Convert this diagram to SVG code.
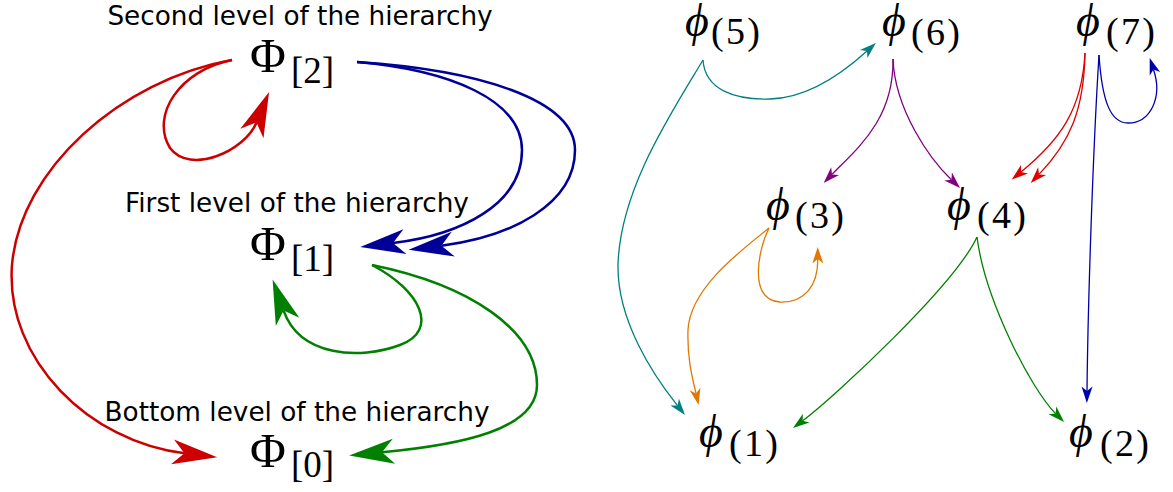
<svg xmlns="http://www.w3.org/2000/svg" width="1173" height="492" viewBox="0 0 1173 492">
<style>
.lbl{font-family:"DejaVu Sans",sans-serif;font-size:26.3px;fill:#000;text-anchor:middle}
.big{font-family:"Liberation Serif","DejaVu Serif",serif;font-size:49px;fill:#000}
.bsub{font-family:"Liberation Serif","DejaVu Serif",serif;font-size:37px;fill:#000}
.phi{font-family:"Liberation Serif","DejaVu Serif",serif;font-style:italic;font-size:46px;fill:#000}
.psub{font-family:"Liberation Serif","DejaVu Serif",serif;font-size:38px;fill:#000}
.thick{fill:none;stroke-width:2.5}
.thin{fill:none;stroke-width:1.3}
</style>
<defs>
<marker id="bR" markerUnits="userSpaceOnUse" orient="auto" refX="0" refY="0" overflow="visible" markerWidth="10" markerHeight="10"><path d="M33,0 L-12,-12.5 L0,0 L-12,12.5 Z" fill="#cc0000"/></marker>
<marker id="bB" markerUnits="userSpaceOnUse" orient="auto" refX="0" refY="0" overflow="visible" markerWidth="10" markerHeight="10"><path d="M33,0 L-12,-12.5 L0,0 L-12,12.5 Z" fill="#000099"/></marker>
<marker id="bG" markerUnits="userSpaceOnUse" orient="auto" refX="0" refY="0" overflow="visible" markerWidth="10" markerHeight="10"><path d="M33,0 L-12,-12.5 L0,0 L-12,12.5 Z" fill="#008000"/></marker>
<marker id="sR" markerUnits="userSpaceOnUse" orient="auto" refX="0" refY="0" overflow="visible" markerWidth="10" markerHeight="10"><path d="M12,0 L-4.5,-5.5 L0,0 L-4.5,5.5 Z" fill="#dd0000"/></marker>
<marker id="sB" markerUnits="userSpaceOnUse" orient="auto" refX="0" refY="0" overflow="visible" markerWidth="10" markerHeight="10"><path d="M12,0 L-4.5,-5.5 L0,0 L-4.5,5.5 Z" fill="#0000aa"/></marker>
<marker id="sG" markerUnits="userSpaceOnUse" orient="auto" refX="0" refY="0" overflow="visible" markerWidth="10" markerHeight="10"><path d="M12,0 L-4.5,-5.5 L0,0 L-4.5,5.5 Z" fill="#008000"/></marker>
<marker id="sT" markerUnits="userSpaceOnUse" orient="auto" refX="0" refY="0" overflow="visible" markerWidth="10" markerHeight="10"><path d="M12,0 L-4.5,-5.5 L0,0 L-4.5,5.5 Z" fill="#008080"/></marker>
<marker id="sP" markerUnits="userSpaceOnUse" orient="auto" refX="0" refY="0" overflow="visible" markerWidth="10" markerHeight="10"><path d="M12,0 L-4.5,-5.5 L0,0 L-4.5,5.5 Z" fill="#800080"/></marker>
<marker id="sO" markerUnits="userSpaceOnUse" orient="auto" refX="0" refY="0" overflow="visible" markerWidth="10" markerHeight="10"><path d="M12,0 L-4.5,-5.5 L0,0 L-4.5,5.5 Z" fill="#e07800"/></marker>
</defs>

<g id="level2">
<text class="lbl" x="300" y="25">Second level of the hierarchy</text>
<text class="big" x="250" y="72">Φ</text>
<text class="bsub" x="291" y="83">[2]</text>
</g>
<g id="level1">
<text class="lbl" x="297" y="212">First level of the hierarchy</text>
<text class="big" x="250" y="260">Φ</text>
<text class="bsub" x="291" y="271">[1]</text>
</g>
<g id="level0">
<text class="lbl" x="297" y="421">Bottom level of the hierarchy</text>
<text class="big" x="250" y="467">Φ</text>
<text class="bsub" x="291" y="477">[0]</text>
</g>

<g id="phi5"><text class="phi" x="685" y="36">ϕ</text><text class="psub" x="711" y="44" textLength="49" lengthAdjust="spacing">(5)</text></g>
<g id="phi6"><text class="phi" x="882" y="36">ϕ</text><text class="psub" x="911" y="45" textLength="49" lengthAdjust="spacing">(6)</text></g>
<g id="phi7"><text class="phi" x="1076" y="36">ϕ</text><text class="psub" x="1106" y="44" textLength="49" lengthAdjust="spacing">(7)</text></g>
<g id="phi3"><text class="phi" x="766" y="220">ϕ</text><text class="psub" x="795" y="228" textLength="49" lengthAdjust="spacing">(3)</text></g>
<g id="phi4"><text class="phi" x="947" y="220">ϕ</text><text class="psub" x="977" y="228" textLength="49" lengthAdjust="spacing">(4)</text></g>
<g id="phi1"><text class="phi" x="699" y="447">ϕ</text><text class="psub" x="729" y="456" textLength="49" lengthAdjust="spacing">(1)</text></g>
<g id="phi2"><text class="phi" x="1069" y="447">ϕ</text><text class="psub" x="1100" y="456" textLength="49" lengthAdjust="spacing">(2)</text></g>

<g id="connectors">
<path class="thick" stroke="#cc0000" marker-end="url(#bR)" d="M232,60 C180,70 150,115 170,148 C190,175 244.5,151.5 256.5,122.4"/>
<path class="thick" stroke="#cc0000" marker-end="url(#bR)" d="M232,60 C120,80 20,170 12,265 C5,360 90,442 184.4,453.3"/>
<path class="thick" stroke="#000099" marker-end="url(#bB)" d="M357,62 C450,70 522,100 522,150 C522,205 460,235 393,243"/>
<path class="thick" stroke="#000099" marker-end="url(#bB)" d="M357,62 C480,70 575,100 575,150 C575,205 510,237 441.4,245.7"/>
<path class="thick" stroke="#008000" marker-end="url(#bG)" d="M372,265 C420,290 440,330 400,345 C360,360 300,357 283.6,310.6"/>
<path class="thick" stroke="#008000" marker-end="url(#bG)" d="M372,265 C470,285 537,330 537,385 C537,430 460,445 382,452.3"/>

<path class="thin" stroke="#008080" marker-end="url(#sT)" d="M703,60 C705,90 735,100 770,99 C810,98 845,71 867,51"/>
<path class="thin" stroke="#008080" marker-end="url(#sT)" d="M703,60 C670,115 620,190 618,265 C617,320 652.7,374.4 677.5,405.6"/>
<path class="thin" stroke="#800080" marker-end="url(#sP)" d="M893,59 C894,120 856.5,149 832,174.4"/>
<path class="thin" stroke="#800080" marker-end="url(#sP)" d="M893,59 C895,110 929.8,159 951.4,179.7"/>
<path class="thin" stroke="#dd0000" marker-end="url(#sR)" d="M1085,53 C1082,110 1060,140 1021,172"/>
<path class="thin" stroke="#dd0000" marker-end="url(#sR)" d="M1085,53 C1084,110 1070,142 1039,174.4"/>
<path class="thin" stroke="#0000aa" marker-end="url(#sB)" d="M1099,55 C1102,100 1110,123 1128,123 C1150,123 1163,98 1153.5,69.5"/>
<path class="thin" stroke="#0000aa" marker-end="url(#sB)" d="M1099,55 C1093,150 1088,300 1087,391"/>
<path class="thin" stroke="#e07800" marker-end="url(#sO)" d="M769,228 C735,255 690,290 688,330 C687,360 693,380 696,393.4"/>
<path class="thin" stroke="#e07800" marker-end="url(#sO)" d="M769,228 C758,250 748,300 780,302 C805,303 818,285 817.8,259"/>
<path class="thin" stroke="#008000" marker-end="url(#sG)" d="M977,237 C955,285 834.6,396.8 802.6,420.8"/>
<path class="thin" stroke="#008000" marker-end="url(#sG)" d="M977,237 C985,300 1031,389 1055.6,413.6"/>
</g>
</svg>
